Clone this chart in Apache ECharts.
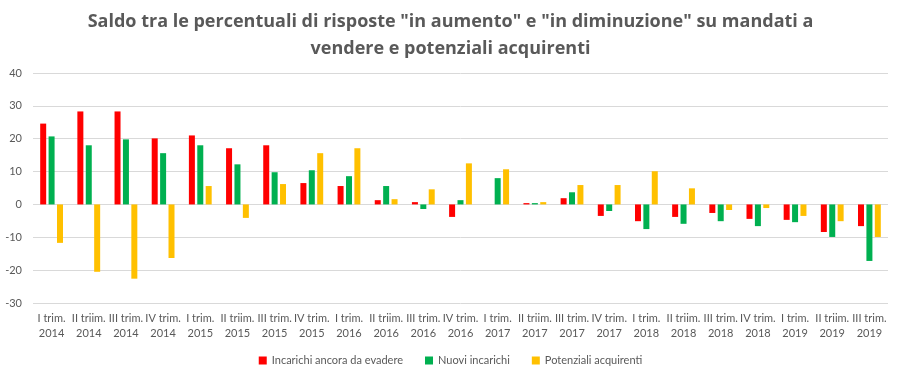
<!DOCTYPE html>
<html><head><meta charset="utf-8">
<script src="https://cdn.jsdelivr.net/npm/echarts@6/dist/echarts.min.js"></script>
<style>html,body{margin:0;padding:0;background:#fff}#c{width:901px;height:378px}</style>
</head><body><div id="c"></div>
<script>
const categories = ["I trim.\n2014","II triim.\n2014","III trim.\n2014","IV trim.\n2014","I trim.\n2015","II triim.\n2015","III trim.\n2015","IV trim.\n2015","I trim.\n2016","II triim.\n2016","III trim.\n2016","IV trim.\n2016","I trim.\n2017","II triim.\n2017","III trim.\n2017","IV trim.\n2017","I trim.\n2018","II triim.\n2018","III trim.\n2018","IV trim.\n2018","I trim.\n2019","II triim.\n2019","III trim.\n2019"];
const incarichiAncora = [24.6,28.3,28.3,20.1,21.0,17.1,18.0,6.5,5.6,1.3,0.7,-3.8,0,0.4,1.9,-3.5,-5.1,-3.8,-2.6,-4.4,-4.7,-8.4,-6.6];
const nuoviIncarichi = [20.7,18.0,19.8,15.6,18.0,12.2,9.8,10.4,8.6,5.6,-1.4,1.3,8.0,0.4,3.7,-2.0,-7.5,-5.9,-5.1,-6.6,-5.4,-9.9,-17.2];
const potenzialiAcquirenti = [-11.7,-20.5,-22.6,-16.3,5.6,-4.1,6.2,15.6,17.1,1.6,4.6,12.5,10.7,0.7,5.9,5.9,10.1,4.9,-1.7,-1.1,-3.5,-5.1,-9.9];
const seriesNames = ["Incarichi ancora da evadere","Nuovi incarichi","Potenziali acquirenti"];
const colors = ["#FF0000","#00B050","#FFC000"];
const title = "Saldo tra le percentuali di risposte \"in aumento\" e \"in diminuzione\" su mandati a\nvendere e potenziali acquirenti";

const chart = echarts.init(document.getElementById('c'));
const font = "Lato, 'Open Sans', sans-serif";
const mk = (name, data, color) => ({
  name, type: 'bar', data, barWidth: 6, barGap: '40%',
  itemStyle: {color}
});
chart.setOption({
  animation: false,
  title: {text: title, left: 'center', top: 3, textStyle: {fontFamily: "'Open Sans', sans-serif", fontWeight: 'bold', fontSize: 18, color: '#595959', lineHeight: 27}},
  legend: {bottom: 7, left: 'center', itemWidth: 8, itemHeight: 8, itemGap: 22, icon: 'rect',
    textStyle: {fontFamily: font, fontSize: 11, color: '#595959'}},
  grid: {left: 33, right: 13, top: 73, bottom: 75, containLabel: false},
  xAxis: {type: 'category', data: categories,
    axisLine: {show: false}, axisTick: {show: false},
    axisLabel: {interval: 0, fontFamily: font, fontSize: 11, color: '#595959', margin: 8, lineHeight: 15}},
  yAxis: {type: 'value', min: -30, max: 40, interval: 10,
    axisLine: {show: false}, axisTick: {show: false},
    axisLabel: {fontFamily: font, fontSize: 11, color: '#595959', margin: 11},
    splitLine: {lineStyle: {color: '#D9D9D9'}}},
  series: [mk(seriesNames[0], incarichiAncora, colors[0]), mk(seriesNames[1], nuoviIncarichi, colors[1]), mk(seriesNames[2], potenzialiAcquirenti, colors[2])]
});
</script></body></html>
